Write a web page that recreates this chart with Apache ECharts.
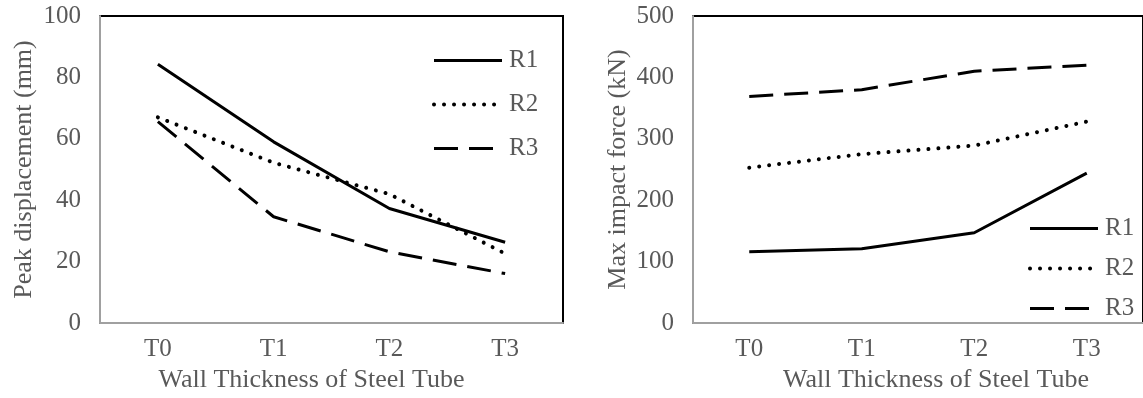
<!DOCTYPE html>
<html>
<head>
<meta charset="utf-8">
<script src="https://cdn.jsdelivr.net/npm/echarts@6/dist/echarts.min.js"></script>
<style>
html,body{margin:0;padding:0;background:#fff;}
#c{width:1143px;height:398px;}
</style>
</head>
<body>
<div id="c"></div>
<script>
var categories = ['T0', 'T1', 'T2', 'T3'];
var seriesNames = ['R1', 'R2', 'R3'];
// Left chart: Peak displacement (mm)
var dispR1 = [84.3, 59.0, 37.3, 26.3];
var dispR2 = [67.0, 52.2, 42.0, 22.6];
var dispR3 = [65.6, 34.6, 23.2, 16.1];
// Right chart: Max impact force (kN)
var forceR1 = [116, 121, 147, 244];
var forceR2 = [253, 275, 289, 328];
var forceR3 = [369, 380, 410, 420];
var dispTicks = {min: 0, max: 100, interval: 20};
var forceTicks = {min: 0, max: 500, interval: 100};

var FONT = '"Liberation Serif", "Times New Roman", serif';
var GREY = '#595959';
var styles = {
  R1: {color: '#000', width: 3, type: 'solid', cap: 'butt'},
  R2: {color: '#000', width: 4, type: [0.01, 10], cap: 'round'},
  R3: {color: '#000', width: 3, type: [24, 11], cap: 'butt'}
};

function mkSeries(name, data, idx) {
  return {
    type: 'line', name: name, data: data,
    xAxisIndex: idx, yAxisIndex: idx,
    symbol: 'none', smooth: false, animation: false,
    color: '#000', itemStyle: {color: '#000'},
    lineStyle: styles[name], z: 3
  };
}
function mkX(idx, padding) {
  return {
    type: 'category', gridIndex: idx, data: categories, boundaryGap: true,
    axisLine: {show: true, lineStyle: {color: '#a0a0a0', width: 2}},
    axisTick: {show: false},
    axisLabel: {color: GREY, fontFamily: FONT, fontSize: 25, margin: 14},
    name: 'Wall Thickness of Steel Tube', nameLocation: 'middle', nameGap: 44,
    nameTextStyle: {color: GREY, fontFamily: FONT, fontSize: 26, padding: padding},
    z: 2
  };
}
function mkY(idx, name, ticks, gap) {
  return {
    type: 'value', gridIndex: idx, min: ticks.min, max: ticks.max, interval: ticks.interval,
    axisLine: {show: true, lineStyle: {color: '#a0a0a0', width: 2}},
    axisTick: {show: false}, splitLine: {show: false},
    axisLabel: {color: GREY, fontFamily: FONT, fontSize: 25, margin: 19},
    name: name, nameLocation: 'middle', nameGap: gap, nameRotate: 90,
    nameTextStyle: {color: GREY, fontFamily: FONT, fontSize: 26},
    z: 2
  };
}
function mkLegend(left, top, gap) {
  return {
    left: left, top: top, orient: 'vertical', padding: 0,
    itemWidth: 68, itemHeight: 14, itemGap: gap,
    data: seriesNames.slice(),
    itemStyle: {opacity: 0},
    lineStyle: {width: 'inherit', type: 'inherit', cap: 'inherit', opacity: 1},
    textStyle: {color: GREY, fontFamily: FONT, fontSize: 25, lineHeight: 24, padding: [0, 0, 0, 2]},
    selectedMode: false
  };
}

var chart = echarts.init(document.getElementById('c'), null, {renderer: 'canvas'});
chart.setOption({
  animation: false,
  backgroundColor: '#fff',
  grid: [
    {left: 100, top: 16, right: 580, bottom: 75, show: true, borderColor: '#000', borderWidth: 2, containLabel: false},
    {left: 693, top: 16, right: -3, bottom: 75, show: true, borderColor: '#000', borderWidth: 2, containLabel: false}
  ],
  xAxis: [mkX(0, [0, 40, 0, 0]), mkX(1, [0, 0, 0, 36])],
  yAxis: [
    mkY(0, 'Peak displacement (mm)', dispTicks, 63),
    mkY(1, 'Max impact force (kN)', forceTicks, 62)
  ],
  legend: [mkLegend(432, 48, 19), mkLegend(1028, 216, 15)],
  series: [
    mkSeries('R1', dispR1, 0), mkSeries('R2', dispR2, 0), mkSeries('R3', dispR3, 0),
    mkSeries('R1', forceR1, 1), mkSeries('R2', forceR2, 1), mkSeries('R3', forceR3, 1)
  ]
});
</script>
</body>
</html>
